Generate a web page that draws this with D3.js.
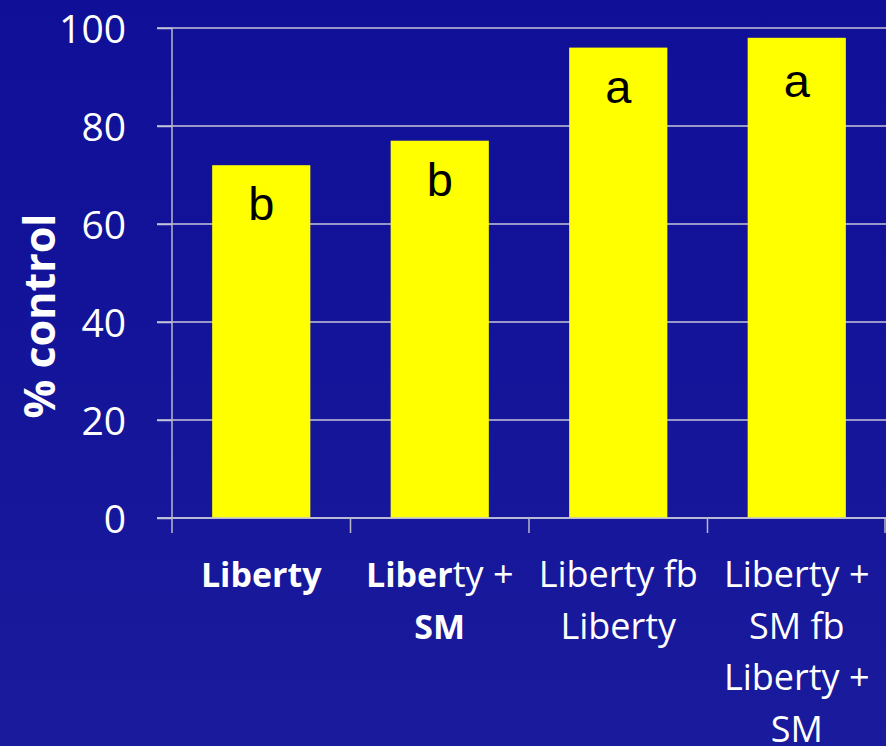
<!DOCTYPE html>
<html>
<head>
<meta charset="utf-8">
<script src="https://cdn.jsdelivr.net/npm/d3@7"></script>
<style>
  body { margin: 0; background: #14149a; }
  svg { display: block; }
</style>
</head>
<body>
<div id="chart"></div>
<script>
// data
const categories = ['Liberty', 'Liberty + SM', 'Liberty fb Liberty', 'Liberty + SM fb Liberty + SM'];
const values = [72, 77, 96, 98];
const letters = ['b', 'b', 'a', 'a'];
const yTicks = [0, 20, 40, 60, 80, 100];
// label lines; each line is a list of [text, bold]
const labelLines = [
  [[['Liberty', true]]],
  [[['Liber', true], ['ty +', false]], [['SM', true]]],
  [[['Liberty fb', false]], [['Liberty', false]]],
  [[['Liberty +', false]], [['SM fb', false]], [['Liberty +', false]], [['SM', false]]]
];

const W = 886, H = 746;
const margin = {top: 28, right: 0, bottom: 228, left: 172};
const width = W - margin.left - margin.right;
const height = H - margin.top - margin.bottom;

const svg = d3.select('#chart').append('svg')
  .attr('width', W)
  .attr('height', H);

const grad = svg.append('defs').append('linearGradient')
  .attr('id', 'bg').attr('x1', 0).attr('y1', 0).attr('x2', 0).attr('y2', 1);
grad.append('stop').attr('offset', '0%').attr('stop-color', '#0f0f98');
grad.append('stop').attr('offset', '100%').attr('stop-color', '#1a1a9c');
svg.append('rect').attr('width', W).attr('height', H).attr('fill', 'url(#bg)');

const g = svg.append('g').attr('transform', `translate(${margin.left},${margin.top})`);

const x = d3.scaleBand().domain(categories).range([0, width]).paddingInner(0.45).paddingOuter(0.225);
const y = d3.scaleLinear().domain([0, 100]).range([height, 0]);

// gridlines
g.append('g')
  .selectAll('line')
  .data(yTicks)
  .join('line')
  .attr('x1', -15).attr('x2', width)
  .attr('y1', d => y(d)).attr('y2', d => y(d))
  .attr('stroke', '#c4c4d8').attr('stroke-width', 1.5);

// y axis
const yAxis = g.append('g')
  .call(d3.axisLeft(y).tickValues(yTicks).tickSize(15).tickPadding(8));
yAxis.select('.domain').remove();
yAxis.selectAll('.tick line').attr('stroke', '#c4c4d8').attr('stroke-width', 1.5);
yAxis.selectAll('text')
  .attr('fill', '#fff')
  .style('font-family', '"Open Sans", sans-serif')
  .style('font-size', '39px')
  .attr('dx', '-23')
  .attr('dy', '0.36em');
g.append('line')
  .attr('x1', 0).attr('x2', 0).attr('y1', 0).attr('y2', height)
  .attr('stroke', '#b8b8c8').attr('stroke-width', 1.5);

// bars
g.selectAll('.bar')
  .data(values)
  .join('rect')
  .attr('class', 'bar')
  .attr('x', (d, i) => x(categories[i]))
  .attr('y', d => y(d))
  .attr('width', x.bandwidth())
  .attr('height', d => height - y(d))
  .attr('fill', '#ffff00');

// significance letters
g.selectAll('.letter')
  .data(letters)
  .join('text')
  .attr('class', 'letter')
  .attr('x', (d, i) => x(categories[i]) + x.bandwidth() / 2)
  .attr('y', (d, i) => Math.max(y(values[i]) + 55, y(100) + 69))
  .attr('text-anchor', 'middle')
  .style('font-family', '"Liberation Sans", Arial, sans-serif')
  .style('font-size', '47px')
  .attr('fill', '#000')
  .text(d => d);

// x axis
const step = x.step();
const xAxis = g.append('g').attr('transform', `translate(0,${height})`);
xAxis.append('line')
  .attr('x1', -15).attr('x2', width)
  .attr('stroke', '#c4c4d8').attr('stroke-width', 1.5);
xAxis.selectAll('.xtick')
  .data(d3.range(categories.length + 1))
  .join('line')
  .attr('class', 'xtick')
  .attr('x1', i => Math.min(i * step, width - 1))
  .attr('x2', i => Math.min(i * step, width - 1))
  .attr('y1', 0).attr('y2', 15)
  .attr('stroke', '#b8b8c8').attr('stroke-width', 1.5);

const labels = xAxis.selectAll('.xlabel')
  .data(labelLines)
  .join('text')
  .attr('class', 'xlabel')
  .attr('text-anchor', 'middle')
  .attr('fill', '#fff')
  .style('font-family', '"Open Sans", sans-serif');

labels.each(function(lines, i) {
  const t = d3.select(this);
  const cx = x(categories[i]) + x.bandwidth() / 2;
  lines.forEach((parts, li) => {
    parts.forEach((p, pi) => {
      const ts = t.append('tspan')
        .style('font-weight', p[1] ? 'bold' : 'normal')
        .style('font-size', p[1] ? '34px' : '36px')
        .text(p[0]);
      if (pi === 0) ts.attr('x', cx).attr('y', 69 + li * 51.5);
    });
  });
});

// y title
svg.append('text')
  .attr('transform', 'translate(55,316) rotate(-90)')
  .attr('text-anchor', 'middle')
  .attr('fill', '#fff')
  .style('font-family', '"Open Sans", sans-serif')
  .style('font-weight', 'bold')
  .style('font-size', '43px')
  .text('% control');
</script>
</body>
</html>
